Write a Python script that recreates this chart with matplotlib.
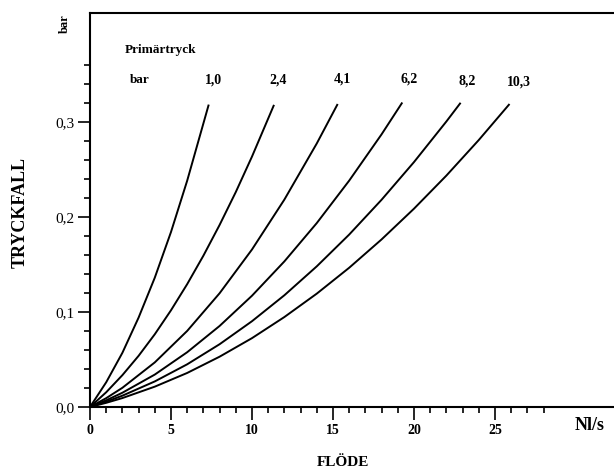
import matplotlib.pyplot as plt
from matplotlib.ticker import FixedLocator, FixedFormatter

# pressure drop curves, one per primary pressure (bar)
pressures = ["1,0", "2,4", "4,1", "6,2", "8,2", "10,3"]

flow_10 = [0, 1, 2, 3, 4, 5, 6, 7.33]
drop_10 = [0, 0.026, 0.057, 0.094, 0.136, 0.184, 0.238, 0.318]

flow_24 = [0, 1, 2, 3, 4, 5, 6, 7, 8, 9, 10, 11.36]
drop_24 = [0, 0.0155, 0.0335, 0.0538, 0.0765, 0.1017, 0.1292, 0.1591, 0.1914, 0.226, 0.2633, 0.3177]

flow_41 = [0, 1, 2, 4, 6, 8, 10, 12, 14, 15.29]
drop_41 = [0, 0.0093, 0.0202, 0.0469, 0.0800, 0.1196, 0.1656, 0.2181, 0.2771, 0.3186]

flow_62 = [0, 1, 2, 4, 6, 8, 10, 12, 14, 16, 18, 19.28]
drop_62 = [0, 0.0070, 0.0150, 0.0341, 0.0576, 0.0852, 0.1170, 0.1531, 0.1934, 0.2380, 0.2867, 0.3202]

flow_82 = [0, 1, 2, 4, 6, 8, 10, 12, 14, 16, 18, 20, 22, 22.88]
drop_82 = [0, 0.0056, 0.0119, 0.0269, 0.0449, 0.0660, 0.0902, 0.1175, 0.1479, 0.1813, 0.2179, 0.2575, 0.3002, 0.3199]

flow_103 = [0, 1, 2, 4, 6, 8, 10, 12, 14, 16, 18, 20, 22, 24, 25.9]
drop_103 = [0, 0.0044, 0.0094, 0.0214, 0.0358, 0.0529, 0.0724, 0.0946, 0.1192, 0.1464, 0.1762, 0.2085, 0.2433, 0.2807, 0.3186]

# label positions (data coords) above each curve end
label_x = [7.6, 11.6, 15.6, 19.7, 23.3, 26.5]
label_y = [0.344, 0.344, 0.345, 0.345, 0.343, 0.342]

x_major = [0, 5, 10, 15, 20, 25]
x_minor = list(range(0, 29))
y_major = [0.0, 0.1, 0.2, 0.3]
y_labels = ["0,0", "0,1", "0,2", "0,3"]
y_minor = [i * 0.02 for i in range(0, 19)]

serif = "Liberation Serif"

fig = plt.figure(figsize=(6.14, 4.72), dpi=100)
ax = fig.add_axes([90 / 614, 1 - 407 / 472, 1 - 90 / 614, (407 - 13) / 472])

curves = [(flow_10, drop_10), (flow_24, drop_24), (flow_41, drop_41),
          (flow_62, drop_62), (flow_82, drop_82), (flow_103, drop_103)]
for fx, dy in curves:
    ax.plot(fx, dy, color="black", linewidth=1.4, solid_capstyle="butt")

for txt, lx, ly in zip(pressures, label_x, label_y):
    ax.text(lx, ly, txt, ha="center", va="center", fontsize=10,
            fontweight="bold", family=serif)
ax.text(2.16, 0.375, "Primärtryck", ha="left", va="center", fontsize=9.5,
        fontweight="bold", family=serif)
ax.text(2.47, 0.344, "bar", ha="left", va="center", fontsize=9.5,
        fontweight="bold", family=serif)

ax.set_xlim(0, 32.35)
ax.set_ylim(0, 0.4143)

ax.spines["right"].set_visible(False)
for s in ["left", "top", "bottom"]:
    ax.spines[s].set_linewidth(1.5)

ax.xaxis.set_major_locator(FixedLocator(x_major))
ax.xaxis.set_minor_locator(FixedLocator(x_minor))
ax.yaxis.set_major_locator(FixedLocator(y_major))
ax.yaxis.set_major_formatter(FixedFormatter(y_labels))
ax.yaxis.set_minor_locator(FixedLocator(y_minor))

ax.tick_params(which="major", length=9, width=1.2, direction="out")
ax.tick_params(which="minor", length=4.5, width=1.2, direction="out")
ax.tick_params(axis="x", pad=3)
ax.tick_params(axis="y", pad=2)
for lab in ax.get_xticklabels():
    lab.set_family(serif)
    lab.set_fontweight("bold")
    lab.set_fontsize(10)
for lab in ax.get_yticklabels():
    lab.set_family(serif)
    lab.set_fontsize(11)

fig.text(590 / 614, 1 - 425 / 472, "Nl/s", ha="center", va="center",
         fontsize=13, fontweight="bold", family=serif)
fig.text(343 / 614, 1 - 463 / 472, "FLÖDE", ha="center", va="center",
         fontsize=11, fontweight="bold", family=serif)
fig.text(20 / 614, 1 - 212 / 472, "TRYCKFALL", ha="center", va="center",
         rotation=90, fontsize=13, fontweight="bold", family=serif)
fig.text(65 / 614, 1 - 24 / 472, "bar", ha="center", va="center",
         rotation=90, fontsize=9, fontweight="bold", family=serif)

fig.savefig("out.png", dpi=100)
